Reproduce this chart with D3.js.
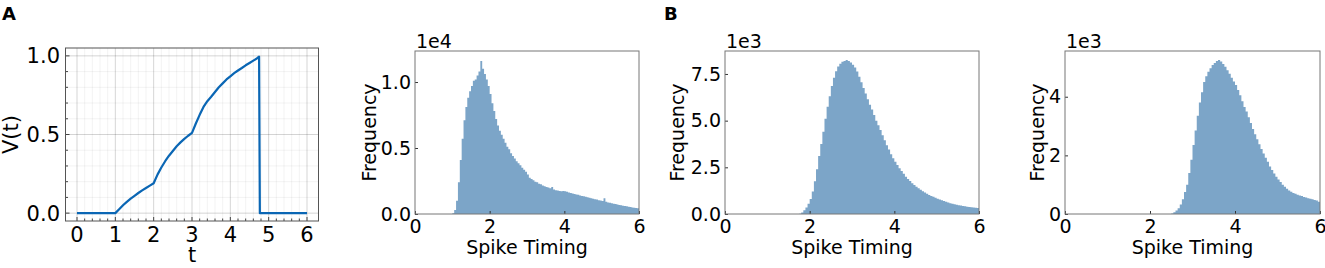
<!DOCTYPE html>
<html>
<head>
<meta charset="utf-8">
<script src="https://cdn.jsdelivr.net/npm/d3@7"></script>
<style>
    body {
        margin: 0;
        background: #fff;
        font-family: "DejaVu Sans", sans-serif;
    }
    svg text { fill: #000; }
</style>
</head>
<body>
<svg id="viz" width="1325" height="268"></svg>
<script>
// ---- panel A: membrane potential trace ----
const traceT = [0, 1, 1.1, 1.2, 1.3, 1.4, 1.5, 1.6, 1.7, 1.8, 1.9, 2.0,
    2.1, 2.2, 2.3, 2.4, 2.5, 2.6, 2.7, 2.8, 2.9, 3.0,
    3.1, 3.2, 3.3, 3.4, 3.5, 3.6, 3.7, 3.8, 3.9, 4.0,
    4.1, 4.2, 4.3, 4.4, 4.5, 4.6, 4.7, 4.75, 4.77, 6.0]
const traceV = [0, 0, 0.025, 0.05, 0.072, 0.092, 0.11, 0.128, 0.145, 0.16, 0.175, 0.19,
    0.245, 0.29, 0.33, 0.365, 0.395, 0.425, 0.45, 0.472, 0.492, 0.51,
    0.57, 0.625, 0.675, 0.712, 0.74, 0.77, 0.80, 0.825, 0.85, 0.87,
    0.89, 0.907, 0.923, 0.94, 0.955, 0.97, 0.985, 0.995, 0, 0]
const traceXTicks = [0, 1, 2, 3, 4, 5, 6]
const traceYTicks = [0, 0.5, 1.0]

// ---- histograms of spike timing (bin width 0.05, counts in thousands) ----
const binWidth = 0.05

const hist1Start = 1.0
const hist1Counts = [
    0.05, 0.3, 1.0, 2.4, 4.1, 5.7, 7.1, 8.1, 8.8, 9.3,
    9.7, 10.1, 10.2, 10.5, 10.8, 11.6, 11.0, 10.6, 10.2, 9.7,
    9.1, 8.4, 7.8, 7.2, 6.7, 6.3, 6.0, 5.7, 5.4, 5.1,
    4.9, 4.6, 4.4, 4.2, 4.0, 3.85, 3.7, 3.5, 3.35, 3.2,
    3.0, 2.75, 2.65, 2.55, 2.45, 2.4, 2.3, 2.25, 2.15, 2.1,
    2.05, 2.0, 1.95, 2.05, 1.85, 1.8, 1.78, 1.75, 1.72, 1.74,
    1.72, 1.68, 1.63, 1.6, 1.56, 1.52, 1.48, 1.45, 1.41, 1.37,
    1.34, 1.30, 1.27, 1.23, 1.20, 1.16, 1.12, 1.09, 1.05, 1.02,
    0.99, 1.2, 0.92, 0.88, 0.85, 0.82, 0.78, 0.75, 0.72, 0.69,
    0.66, 0.63, 0.60, 0.58, 0.55, 0.53, 0.50, 0.48, 0.46, 0.44]

const hist2Start = 1.75
const hist2Counts = [
    0.02, 0.08, 0.2, 0.35, 0.55, 0.8, 1.2, 1.75, 2.4, 3.1,
    3.75, 4.4, 5.1, 5.75, 6.3, 6.85, 7.3, 7.65, 7.9, 8.05,
    8.15, 8.2, 8.25, 8.2, 8.12, 8.0, 7.85, 7.63, 7.35, 7.05,
    6.75, 6.45, 6.15, 5.85, 5.6, 5.3, 5.0, 4.75, 4.5, 4.22,
    3.95, 3.68, 3.45, 3.2, 2.98, 2.8, 2.62, 2.45, 2.3, 2.15,
    2.0, 1.88, 1.77, 1.65, 1.55, 1.46, 1.38, 1.3, 1.22, 1.15,
    1.08, 1.02, 0.97, 0.92, 0.87, 0.82, 0.78, 0.73, 0.69, 0.65,
    0.62, 0.58, 0.55, 0.52, 0.49, 0.47, 0.45, 0.43, 0.41, 0.39,
    0.37, 0.36, 0.35, 0.33, 0.32]

const hist3Start = 2.5
const hist3Counts = [
    0.02, 0.06, 0.12, 0.2, 0.32, 0.5, 0.75, 1.0, 1.4, 1.85,
    2.35, 2.85, 3.35, 3.8, 4.15, 4.5, 4.7, 4.85, 4.97, 5.08,
    5.15, 5.22, 5.25, 5.2, 5.12, 5.02, 4.9, 4.78, 4.65, 4.52,
    4.4, 4.23, 4.05, 3.85, 3.65, 3.5, 3.3, 3.1, 2.9, 2.72,
    2.55, 2.38, 2.22, 2.06, 1.92, 1.78, 1.62, 1.5, 1.38, 1.27,
    1.18, 1.09, 1.0, 0.93, 0.86, 0.8, 0.76, 0.72, 0.69, 0.66,
    0.63, 0.61, 0.58, 0.56, 0.54, 0.52, 0.5, 0.48, 0.46, 0.42]

const histXTicks = [0, 2, 4, 6]
const hist1YTicks = [0, 5, 10]        // shown as 0.0, 0.5, 1.0 (1e4)
const hist2YTicks = [0, 2.5, 5, 7.5]  // 1e3
const hist3YTicks = [0, 2, 4]         // 1e3

const svg = d3.select('#viz')

// panel letters
svg.append('text').attr('x', 2).attr('y', 20)
    .attr('font-size', 18).attr('font-weight', 'bold').text('A')
svg.append('text').attr('x', 664).attr('y', 20)
    .attr('font-size', 18).attr('font-weight', 'bold').text('B')

// ---------- panel A ----------
function drawTrace() {
    const box = {left: 65.5, right: 318.5, top: 48, bottom: 221}
    const x = d3.scaleLinear([-0.3, 6.3], [box.left, box.right])
    const y = d3.scaleLinear([-0.05, 1.05], [box.bottom, box.top])
    const g = svg.append('g')

    const minorX = d3.range(0, 6.01, 0.2)
    const minorY = d3.range(0, 1.001, 0.1)

    g.append('g').selectAll('line').data(minorX).enter().append('line')
        .attr('x1', d => x(d)).attr('x2', d => x(d))
        .attr('y1', box.top).attr('y2', box.bottom)
        .attr('stroke', '#000').attr('stroke-opacity', 0.05)
    g.append('g').selectAll('line').data(minorY).enter().append('line')
        .attr('y1', d => y(d)).attr('y2', d => y(d))
        .attr('x1', box.left).attr('x2', box.right)
        .attr('stroke', '#000').attr('stroke-opacity', 0.05)
    g.append('g').selectAll('line').data(traceXTicks).enter().append('line')
        .attr('x1', d => x(d)).attr('x2', d => x(d))
        .attr('y1', box.top).attr('y2', box.bottom)
        .attr('stroke', '#000').attr('stroke-opacity', 0.12)
    g.append('g').selectAll('line').data(traceYTicks).enter().append('line')
        .attr('y1', d => y(d)).attr('y2', d => y(d))
        .attr('x1', box.left).attr('x2', box.right)
        .attr('stroke', '#000').attr('stroke-opacity', 0.12)

    // small inward ticks on bottom and left
    g.append('g').selectAll('line').data(minorX).enter().append('line')
        .attr('x1', d => x(d)).attr('x2', d => x(d))
        .attr('y1', box.bottom).attr('y2', d => box.bottom - (traceXTicks.includes(Math.round(d * 10) / 10) ? 4 : 2.5))
        .attr('stroke', '#444')
    g.append('g').selectAll('line').data(minorY).enter().append('line')
        .attr('y1', d => y(d)).attr('y2', d => y(d))
        .attr('x1', box.left).attr('x2', d => box.left + ([0, 5, 10].includes(Math.round(d * 10)) ? 4 : 2.5))
        .attr('stroke', '#444')

    g.append('rect')
        .attr('x', box.left).attr('y', box.top)
        .attr('width', box.right - box.left).attr('height', box.bottom - box.top)
        .attr('fill', 'none').attr('stroke', '#555').attr('stroke-width', 1)

    const line = d3.line().x((d, i) => x(traceT[i])).y(d => y(d))
    g.append('path')
        .datum(traceV)
        .attr('d', line)
        .attr('fill', 'none')
        .attr('stroke', '#0a66b4')
        .attr('stroke-width', 2.2)
        .attr('stroke-linejoin', 'round')

    g.append('g').selectAll('text').data(traceXTicks).enter().append('text')
        .attr('x', d => x(d)).attr('y', 242)
        .attr('text-anchor', 'middle').attr('font-size', 21)
        .text(d => d)
    g.append('g').selectAll('text').data(traceYTicks).enter().append('text')
        .attr('x', 60).attr('y', d => y(d)).attr('dy', '0.36em')
        .attr('text-anchor', 'end').attr('font-size', 21)
        .text(d => d.toFixed(1))

    g.append('text').attr('x', x(3)).attr('y', 262)
        .attr('text-anchor', 'middle').attr('font-size', 21).text('t')
    g.append('text')
        .attr('transform', `translate(18,${(box.top + box.bottom) / 2}) rotate(-90)`)
        .attr('text-anchor', 'middle').attr('font-size', 21).text('V(t)')
}

// ---------- histogram panels ----------
function drawHist(opts) {
    const box = opts.box
    const x = d3.scaleLinear([0, 6], [box.left, box.right])
    const y = d3.scaleLinear([0, opts.yMax], [box.bottom, box.top])
    const g = svg.append('g')

    const bins = opts.counts.map((c, i) => ({x0: opts.start + i * binWidth, c: c}))
    const last = bins[bins.length - 1]
    bins.push({x0: last.x0 + binWidth, c: last.c})

    // step outline of the bins filled as one shape (avoids seams between bars)
    const area = d3.area()
        .curve(d3.curveStepAfter)
        .x(d => x(d.x0))
        .y0(y(0))
        .y1(d => y(d.c))
    g.append('path')
        .datum(bins)
        .attr('d', area)
        .attr('fill', '#7ca5c8')

    const xAxis = g.append('g')
        .attr('transform', `translate(0,${box.bottom})`)
        .call(d3.axisBottom(x).tickValues(histXTicks).tickSizeInner(-3).tickSizeOuter(0).tickPadding(6).tickFormat(d3.format('d')))
    const yAxis = g.append('g')
        .attr('transform', `translate(${box.left},0)`)
        .call(d3.axisLeft(y).tickValues(opts.yTicks).tickSizeInner(-3).tickSizeOuter(0).tickPadding(4).tickFormat(opts.yFormat))

    ;[xAxis, yAxis].forEach(a => {
        a.select('.domain').remove()
        a.selectAll('text').attr('font-size', 19).attr('font-family', '"DejaVu Sans", sans-serif').attr('fill', '#000')
        a.selectAll('line').attr('stroke', '#333')
    })

    g.append('rect')
        .attr('x', box.left).attr('y', box.top)
        .attr('width', box.right - box.left).attr('height', box.bottom - box.top)
        .attr('fill', 'none').attr('stroke', '#777').attr('stroke-width', 1)

    g.append('text').attr('x', box.left + 1).attr('y', box.top - 3)
        .attr('font-size', 19).text(opts.offset)

    g.append('text').attr('x', (box.left + box.right) / 2).attr('y', 254)
        .attr('text-anchor', 'middle').attr('font-size', 19).text('Spike Timing')
    g.append('text')
        .attr('transform', `translate(${box.left - opts.labelGap},${(box.top + box.bottom) / 2}) rotate(-90)`)
        .attr('text-anchor', 'middle').attr('font-size', 19).text('Frequency')
}

drawTrace()

drawHist({
    box: {left: 415, right: 639, top: 51, bottom: 214},
    start: hist1Start, counts: hist1Counts, yMax: 12.35,
    yTicks: hist1YTicks, yFormat: d => (d / 10).toFixed(1),
    offset: '1e4', labelGap: 39
})
drawHist({
    box: {left: 725, right: 979, top: 51, bottom: 214},
    start: hist2Start, counts: hist2Counts, yMax: 8.73,
    yTicks: hist2YTicks, yFormat: d => d.toFixed(1),
    offset: '1e3', labelGap: 41
})
drawHist({
    box: {left: 1065, right: 1320, top: 51, bottom: 214},
    start: hist3Start, counts: hist3Counts, yMax: 5.56,
    yTicks: hist3YTicks, yFormat: d => d3.format('d')(d),
    offset: '1e3', labelGap: 21
})
</script>
</body>
</html>
